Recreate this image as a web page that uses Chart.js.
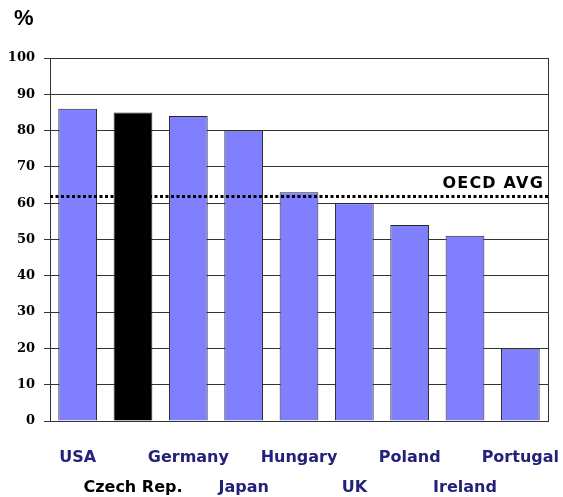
<!DOCTYPE html>
<html><head><meta charset="utf-8">
<script src="https://cdn.jsdelivr.net/npm/chart.js@4/dist/chart.umd.min.js"></script>
<style>html,body{margin:0;padding:0;background:#fff;overflow:hidden}#wrap{width:563px;height:497px;position:relative}</style>
</head><body><div id="wrap"><canvas id="c"></canvas></div>
<script>
const categories = ['USA','Czech Rep.','Germany','Japan','Hungary','UK','Poland','Ireland','Portugal'];
const values = [86,85,84,80,63,60,54,51,20];
const yTicks = [0,10,20,30,40,50,60,70,80,90,100];
const OECD_AVG = 62;
const OECD_LABEL = 'OECD AVG';
const UNIT_LABEL = '%';
const highlight = 'Czech Rep.';

const BAR = '#8080ff', HBAR = '#000000', NAVY = '#22227a', LINE = '#333333';

const extras = {
  id: 'extras',
  afterDatasetsDraw(chart) {
    const {ctx, chartArea: a, scales: {y}} = chart;
    ctx.save();
    // right border
    ctx.strokeStyle = LINE; ctx.lineWidth = 1;
    ctx.beginPath(); ctx.moveTo(a.right + 0.5, a.top); ctx.lineTo(a.right + 0.5, a.bottom); ctx.stroke();
    // OECD avg dotted line
    const py = Math.round(y.getPixelForValue(OECD_AVG)) + 0.5;
    ctx.strokeStyle = '#000'; ctx.lineWidth = 3; ctx.setLineDash([3, 2.5]);
    ctx.beginPath(); ctx.moveTo(a.left, py); ctx.lineTo(a.right, py); ctx.stroke();
    ctx.setLineDash([]);
    ctx.fillStyle = '#000'; ctx.font = 'bold 16px "DejaVu Sans"';
    if ('letterSpacing' in ctx) ctx.letterSpacing = '1.2px';
    ctx.textAlign = 'right'; ctx.textBaseline = 'alphabetic';
    ctx.fillText(OECD_LABEL, a.right - 4, py - 9);
    if ('letterSpacing' in ctx) ctx.letterSpacing = '0px';
    // unit label
    ctx.font = 'bold 22px "Liberation Sans"'; ctx.textAlign = 'left';
    ctx.fillText(UNIT_LABEL, 14, 25);
    ctx.restore();
  }
};

new Chart(document.getElementById('c'), {
  type: 'bar',
  data: {
    labels: categories,
    datasets: [{
      data: values,
      backgroundColor: categories.map(c => c === highlight ? HBAR : BAR),
      borderColor: '#262626',
      borderWidth: 1,
      barPercentage: 0.7,
      categoryPercentage: 1
    }]
  },
  options: {
    responsive: true,
    maintainAspectRatio: false,
    animation: false,
    layout: { padding: { top: 58, right: 15, left: 0, bottom: 0 } },
    plugins: { legend: { display: false }, tooltip: { enabled: false } },
    scales: {
      x: {
        grid: { display: false, drawTicks: false },
        border: { display: true, color: LINE, width: 1 },
        ticks: {
          autoSkip: false, maxRotation: 0, minRotation: 0, padding: 22,
          font: { family: '"DejaVu Sans"', weight: 'bold', size: 16, lineHeight: 1.85 },
          color: ctx => categories[ctx.index] === highlight ? '#000' : NAVY,
          callback: (v, i) => i % 2 === 0 ? [categories[i], ''] : ['', categories[i]]
        },
        afterFit: s => { s.height = 76; s.paddingLeft = 0; s.paddingRight = 0; }
      },
      y: {
        min: 0, max: 100,
        afterBuildTicks: s => { s.ticks = yTicks.map(v => ({ value: v })); },
        grid: { color: LINE, lineWidth: 1, tickLength: 6, drawTicks: true },
        border: { display: true, color: LINE, width: 1 },
        ticks: {
          padding: 9, color: '#000',
          font: { family: '"DejaVu Serif"', weight: 'bold', size: 13 },
          callback: v => String(v)
        },
        afterFit: s => { s.width = 50; }
      }
    }
  },
  plugins: [extras]
});
</script>
</body></html>
